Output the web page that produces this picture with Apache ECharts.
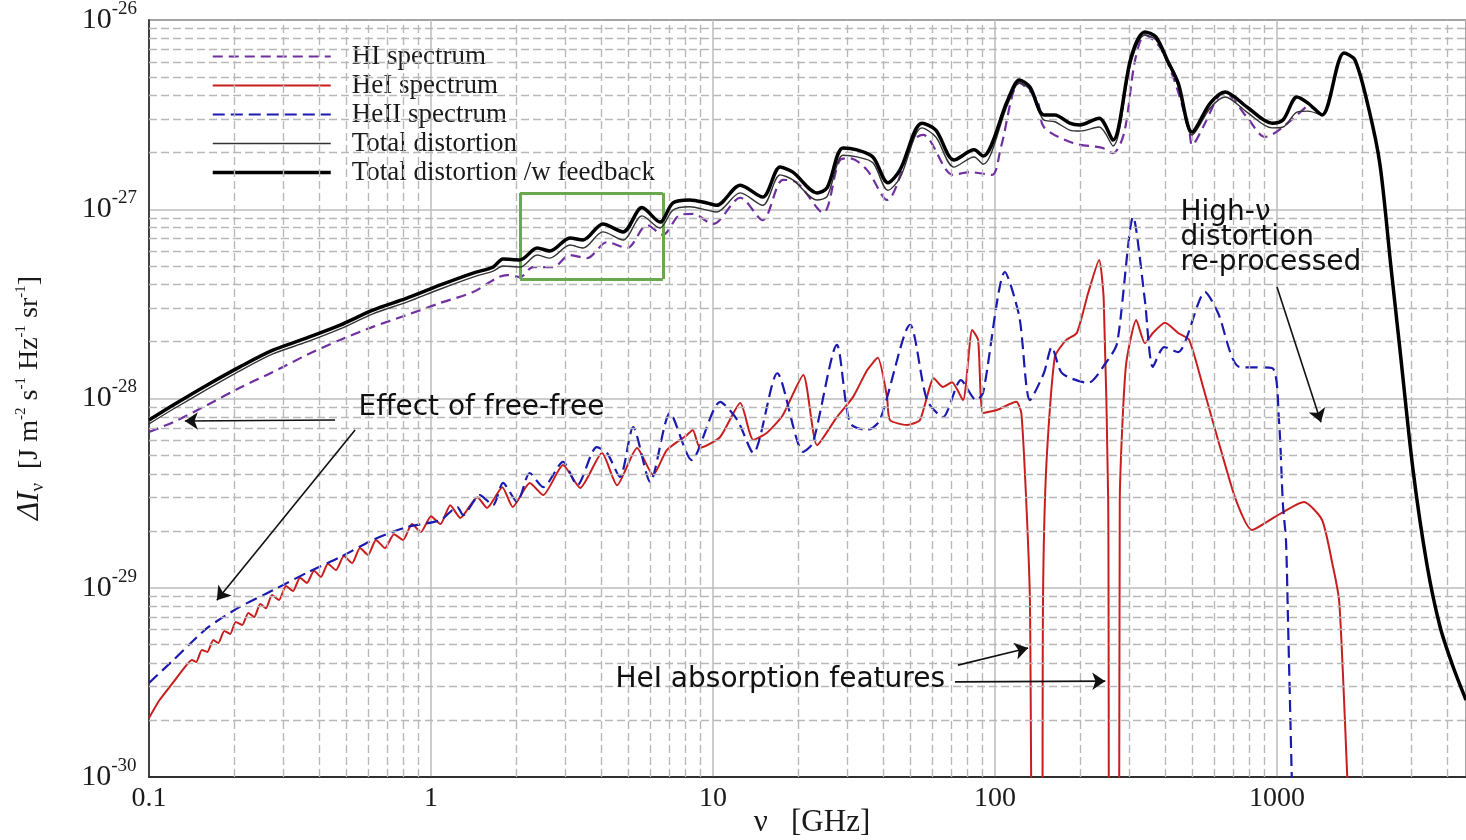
<!DOCTYPE html>
<html>
<head>
<meta charset="utf-8">
<title>Spectral distortion</title>
<script src="https://cdn.jsdelivr.net/npm/echarts@6/dist/echarts.min.js"></script>
<style>
  html, body { margin: 0; padding: 0; background: #fff; }
  #chart { width: 1466px; height: 840px; }
</style>
</head>
<body>
<div id="chart"></div>
<script>
// frequencies in GHz, intensities in J m^-2 s^-1 Hz^-1 sr^-1
var totFreq = [0.1, 0.122, 0.161, 0.21, 0.275, 0.363, 0.476, 0.622, 0.821, 1.08,
    1.41, 1.66, 1.8, 2.07, 2.38, 2.64, 3.11, 3.46, 4.07, 4.8,
    5.6, 6.49, 7.21, 8.28, 9.52, 10.3, 12.5, 15, 17.3, 19.2,
    23.4, 25.4, 28.9, 32.4, 36.9, 41.7, 46, 55.1, 61.7, 71.5,
    84.3, 90.7, 111, 122, 133, 149, 163, 184, 200, 234,
    262, 304, 340, 372, 408, 446, 500, 580, 654, 782,
    960, 1050, 1177, 1288, 1445, 1728, 1890, 2120, 2320, 2536,
    2731, 3037, 3404, 3789, 4202, 4680];
var totVal = [7.34e-29, 8.8e-29, 1.12e-28, 1.40e-28, 1.72e-28, 1.99e-28, 2.33e-28, 2.80e-28, 3.23e-28, 3.79e-28,
    4.38e-28, 4.71e-28, 5.01e-28, 4.95e-28, 5.73e-28, 5.52e-28, 6.47e-28, 6.24e-28, 7.59e-28, 6.88e-28,
    9.22e-28, 7.96e-28, 9.9e-28, 1.03e-27, 9.9e-28, 9.67e-28, 1.22e-27, 1.05e-27, 1.52e-27, 1.43e-27,
    1.12e-27, 1.17e-27, 1.93e-27, 1.89e-27, 1.76e-27, 1.26e-27, 1.46e-27, 2.69e-27, 2.41e-27, 1.67e-27,
    1.89e-27, 1.73e-27, 3.60e-27, 4.65e-27, 4.27e-27, 2.96e-27, 2.90e-27, 2.62e-27, 2.59e-27, 2.72e-27,
    2.16e-27, 6.02e-27, 8.33e-27, 7.85e-27, 6.02e-27, 4.48e-27, 2.47e-27, 3.43e-27, 3.92e-27, 3.26e-27,
    2.69e-27, 2.72e-27, 3.26e-27, 3.30e-27, 3.15e-27, 6.69e-27, 6.15e-27, 3.35e-27, 1.71e-27, 4.95e-28,
    1.80e-28, 4.19e-29, 1.32e-29, 6.2e-30, 3.86e-30, 2.55e-30];
var fbVal = [7.7e-29, 9.25e-29, 1.18e-28, 1.47e-28, 1.80e-28, 2.09e-28, 2.44e-28, 2.93e-28, 3.39e-28, 3.98e-28,
    4.60e-28, 4.95e-28, 5.46e-28, 5.40e-28, 6.24e-28, 6.02e-28, 7.05e-28, 6.88e-28, 8.36e-28, 7.59e-28,
    1.02e-27, 8.56e-28, 1.08e-27, 1.12e-27, 1.08e-27, 1.05e-27, 1.34e-27, 1.16e-27, 1.67e-27, 1.57e-27,
    1.22e-27, 1.30e-27, 2.11e-27, 2.06e-27, 1.89e-27, 1.38e-27, 1.61e-27, 2.85e-27, 2.62e-27, 1.82e-27,
    2.06e-27, 1.91e-27, 3.78e-27, 4.82e-27, 4.42e-27, 3.15e-27, 3.15e-27, 2.85e-27, 2.79e-27, 3.03e-27,
    2.32e-27, 6.38e-27, 8.65e-27, 8.14e-27, 6.15e-27, 4.65e-27, 2.56e-27, 3.64e-27, 4.17e-27, 3.47e-27,
    2.85e-27, 2.96e-27, 3.92e-27, 3.64e-27, 3.15e-27, 6.69e-27, 6.15e-27, 3.35e-27, 1.71e-27, 4.95e-28,
    1.80e-28, 4.19e-29, 1.32e-29, 6.2e-30, 3.86e-30, 2.55e-30];

var hiFreq = [0.1, 0.122, 0.161, 0.21, 0.275, 0.363, 0.476, 0.622, 0.821, 1.08,
    1.41, 1.86, 2.07, 2.3, 2.71, 3.11, 3.57, 4.21, 4.96, 5.84,
    6.64, 7.63, 8.48, 10, 12.5, 15, 17.7, 19.9, 24.6, 28.2,
    30.6, 35.2, 41.4, 51.2, 55.6, 71, 81.6, 97.6, 105, 122,
    141, 149, 189, 240, 262, 287, 314, 340, 384, 432,
    488, 500, 547, 618, 654, 782, 907, 1016, 1288];
var hiVal = [6.65e-29, 7.51e-29, 9.25e-29, 1.14e-28, 1.38e-28, 1.70e-28, 2.04e-28, 2.39e-28, 2.76e-28, 3.20e-28,
    3.65e-28, 4.49e-28, 4.38e-28, 4.95e-28, 4.95e-28, 5.73e-28, 5.52e-28, 6.70e-28, 6.24e-28, 8.25e-28,
    7.33e-28, 9.33e-28, 9.45e-28, 8.36e-28, 1.15e-27, 8.76e-28, 1.43e-27, 1.38e-27, 9.58e-28, 1.82e-27,
    1.86e-27, 1.61e-27, 1.12e-27, 2.32e-27, 2.47e-27, 1.52e-27, 1.57e-27, 1.52e-27, 2.13e-27, 4.65e-27,
    3.78e-27, 2.72e-27, 2.24e-27, 2.11e-27, 1.98e-27, 2.53e-27, 6.15e-27, 8.33e-27, 7.2e-27, 4.82e-27,
    2.62e-27, 2.18e-27, 2.72e-27, 3.92e-27, 4.11e-27, 3.07e-27, 2.41e-27, 2.62e-27, 3.55e-27];

var heIFreq = [0.1, 0.109, 0.122, 0.134, 0.142, 0.147, 0.154, 0.161, 0.169, 0.176,
    0.185, 0.194, 0.203, 0.214, 0.225, 0.236, 0.248, 0.260, 0.273, 0.289,
    0.306, 0.324, 0.343, 0.363, 0.385, 0.407, 0.431, 0.460, 0.491, 0.525,
    0.560, 0.598, 0.638, 0.687, 0.739, 0.796, 0.856, 0.921, 1.0, 1.08,
    1.17, 1.27, 1.46, 1.58, 1.79, 1.95, 2.24, 2.50, 2.94, 3.38,
    4.04, 4.57, 5.38, 6.13, 6.86, 8.09, 8.48, 9.0, 10.6, 12.5,
    13.9, 15.5, 17.7, 20.9, 23.4, 27.5, 31.4, 35.2, 38.4, 41.4,
    42.4, 48.8, 54.2, 60.7, 65.4, 70.4, 77.0, 83.0, 87.1, 90.7,
    101.6, 119, 124, 129, 133, 137, 146, 148, 152, 163,
    179, 195, 214, 234, 243, 252, 256, 275, 277, 291,
    317, 340, 363, 401, 446, 488, 547, 618, 715, 815,
    984, 1247, 1445, 1580, 1660, 1714, 1780];
var heIVal = [2.05e-30, 2.55e-30, 3.17e-30, 3.81e-30, 4.15e-30, 4.05e-30, 4.69e-30, 4.58e-30, 5.3e-30, 5.10e-30,
    5.91e-30, 5.70e-30, 6.59e-30, 6.36e-30, 7.36e-30, 7.0e-30, 8.2e-30, 7.8e-30, 9.15e-30, 8.62e-30,
    1.02e-29, 9.6e-30, 1.13e-29, 1.06e-29, 1.23e-29, 1.14e-29, 1.34e-29, 1.24e-29, 1.47e-29, 1.35e-29,
    1.62e-29, 1.49e-29, 1.79e-29, 1.62e-29, 1.92e-29, 1.79e-29, 2.17e-29, 1.97e-29, 2.39e-29, 2.17e-29,
    2.73e-29, 2.34e-29, 3.01e-29, 2.64e-29, 3.40e-29, 2.67e-29, 3.58e-29, 3.09e-29, 4.45e-29, 3.37e-29,
    5.15e-29, 3.48e-29, 5.48e-29, 3.94e-29, 5.34e-29, 6.42e-29, 6.82e-29, 5.48e-29, 6.26e-29, 9.47e-29,
    6.04e-29, 6.57e-29, 8.19e-29, 1.33e-28, 5.67e-29, 7.98e-29, 1.02e-28, 1.41e-28, 1.64e-28, 1.02e-28,
    7.7e-29, 7.25e-29, 7.7e-29, 1.28e-28, 1.15e-28, 1.22e-28, 9.8e-29, 2.30e-28, 2.04e-28, 8.38e-29,
    8.7e-29, 9.6e-29, 8.38e-29, 2.91e-29, 8.6e-30, 1e-31, 1e-31, 8.6e-30, 4.35e-29, 1.66e-28,
    2.04e-28, 2.22e-28, 3.61e-28, 5.40e-28, 3.31e-28, 2.91e-29, 1e-31, 1e-31, 2.91e-29, 1.47e-28,
    2.60e-28, 1.96e-28, 2.22e-28, 2.51e-28, 2.22e-28, 2.04e-28, 1.15e-28, 6.04e-29, 2.91e-29, 2.02e-29,
    2.37e-29, 2.84e-29, 2.28e-29, 1.29e-29, 8.6e-30, 3.46e-30, 9e-31];

var heIIFreq = [0.1, 0.122, 0.161, 0.21, 0.275, 0.363, 0.476, 0.622, 0.821, 1.08,
    1.24, 1.30, 1.49, 1.66, 1.80, 2.02, 2.24, 2.50, 2.94, 3.30,
    3.87, 4.21, 4.68, 5.21, 5.99, 7.04, 8.4, 10.6, 12.2, 13.9,
    16.9, 20.9, 22.6, 27.5, 30.6, 35.2, 39.1, 50.0, 57.4, 65.4,
    75.7, 85.7, 90.7, 108.5, 122, 133, 149, 159, 173, 214,
    247, 271, 309, 340, 363, 398, 446, 556, 618, 734,
    960, 1016, 1050, 1076, 1094, 1130];
var heIIVal = [3.14e-30, 4.15e-30, 6.13e-30, 7.92e-30, 9.7e-30, 1.20e-29, 1.45e-29, 1.79e-29, 2.09e-29, 2.28e-29,
    2.67e-29, 2.42e-29, 3.09e-29, 2.73e-29, 3.58e-29, 2.84e-29, 4.04e-29, 3.40e-29, 4.62e-29, 3.48e-29,
    5.54e-29, 5.15e-29, 3.85e-29, 7.07e-29, 3.62e-29, 8.38e-29, 4.73e-29, 9.6e-29, 7.7e-29, 5.15e-29,
    1.36e-28, 5.22e-29, 5.82e-29, 1.92e-28, 7.43e-29, 6.82e-29, 7.7e-29, 2.45e-28, 9.8e-29, 7.98e-29,
    1.25e-28, 9.8e-29, 1.07e-28, 4.66e-28, 2.70e-28, 9.8e-29, 1.36e-28, 1.87e-28, 1.36e-28, 1.21e-28,
    1.54e-28, 1.96e-28, 9.1e-28, 3.31e-28, 1.47e-28, 1.87e-28, 1.76e-28, 3.65e-28, 2.83e-28, 1.47e-28,
    1.45e-28, 7.7e-29, 2.73e-29, 1.79e-29, 6.76e-30, 9e-31];

var legendNames = ['HI spectrum', 'HeI spectrum', 'HeII spectrum', 'Total distortion', 'Total distortion /w feedback'];
var xTicks = [0.1, 1, 10, 100, 1000];
var yTicks = [1e-30, 1e-29, 1e-28, 1e-27];
var minorSteps = [2, 3, 4, 5, 6, 7, 8, 9];
var xMin = 0.1, xMax = 4680, yMin = 1e-30, yMax = 1e-26;
// green box around the 2-7 GHz wiggles: [nu0, nu1], [I_top, I_bottom]
var boxFreq = [2.07, 6.64];
var boxVal = [1.22e-27, 4.28e-28];

var serif = "'Liberation Serif', 'DejaVu Serif', serif";
var sans = "'DejaVu Sans', 'Noto Sans', sans-serif";

function pairs(xs, ys) {
    var out = [];
    for (var i = 0; i < xs.length; i++) out.push([xs[i], ys[i]]);
    return out;
}

// dashed minor grid at 2..9 of every decade
var minorLines = [];
xTicks.forEach(function (d) {
    minorSteps.forEach(function (m) {
        if (d * m < xMax) minorLines.push({ xAxis: d * m });
    });
});
yTicks.forEach(function (d) {
    minorSteps.forEach(function (m) {
        minorLines.push([{ coord: [xMin, d * m] }, { coord: [xMax, d * m] }]);
    });
});

var boxLines = [
    [{ coord: [boxFreq[0], boxVal[0]] }, { coord: [boxFreq[1], boxVal[0]] }],
    [{ coord: [boxFreq[1], boxVal[0]] }, { coord: [boxFreq[1], boxVal[1]] }],
    [{ coord: [boxFreq[1], boxVal[1]] }, { coord: [boxFreq[0], boxVal[1]] }],
    [{ coord: [boxFreq[0], boxVal[1]] }, { coord: [boxFreq[0], boxVal[0]] }]
];

var chart = echarts.init(document.getElementById('chart'));

function curve(name, xs, ys, color, width, type, z, smooth) {
    return {
        name: name,
        type: 'line',
        data: pairs(xs, ys),
        showSymbol: false,
        symbol: 'none',
        smooth: smooth,
        clip: true,
        z: z,
        lineStyle: { color: color, width: width, type: type },
        itemStyle: { color: color },
        emphasis: { disabled: true }
    };
}

function powerLabel(v) {
    var e = Math.round(Math.log10(v));
    if (!isFinite(e)) return '';
    return '{b|10}{e|' + e + '}';
}

var yLabelRich = {
    b: { fontFamily: serif, fontSize: 30, color: '#1a1a1a' },
    e: { fontFamily: serif, fontSize: 19, color: '#1a1a1a', padding: [0, 0, 22, 0] }
};

var option = {
    animation: false,
    backgroundColor: '#fff',
    grid: {
        left: 149, right: 0, top: 20, bottom: 63,
        outerBoundsMode: 'none',
        containLabel: false,
        show: true, borderColor: '#222', borderWidth: 1.5, backgroundColor: '#fff'
    },
    graphic: [{
        // y axis title
        type: 'text',
        x: 30,
        y: 398,
        rotation: Math.PI / 2,
        silent: true,
        style: {
            text: '{it|ΔI}{sub|ν}{n|  [J m}{sup|-2}{n| s}{sup|-1}{n| Hz}{sup|-1}{n| sr}{sup|-1}{n|]}',
            align: 'center',
            verticalAlign: 'middle',
            rich: {
                it: { fontFamily: serif, fontSize: 31, fontStyle: 'italic', fill: '#1a1a1a' },
                sub: { fontFamily: serif, fontSize: 19, fill: '#1a1a1a', padding: [16, 0, 0, 0] },
                n: { fontFamily: serif, fontSize: 28, fill: '#1a1a1a' },
                sup: { fontFamily: serif, fontSize: 15, fill: '#1a1a1a', padding: [0, 0, 18, 0] }
            }
        }
    }, {
        // x axis title
        type: 'text',
        x: 812,
        y: 823,
        silent: true,
        style: {
            text: 'ν   [GHz]',
            align: 'center',
            verticalAlign: 'middle',
            fontFamily: serif,
            fontSize: 31,
            fill: '#1a1a1a'
        }
    }],
    legend: {
        data: [
            { name: legendNames[0], lineStyle: { width: 2.2 } },
            { name: legendNames[1], lineStyle: { width: 2 } },
            { name: legendNames[2], lineStyle: { width: 2.2 } },
            { name: legendNames[3], lineStyle: { width: 1.4 } },
            { name: legendNames[4], lineStyle: { width: 3.5 } }
        ],
        orient: 'vertical',
        left: 206,
        top: 38,
        itemWidth: 118,
        itemHeight: 14,
        itemGap: 2,
        selectedMode: false,
        itemStyle: { opacity: 0 },
        textStyle: { fontFamily: serif, fontSize: 27, color: '#1a1a1a', lineHeight: 24, padding: [0, 0, 0, 16] }
    },
    xAxis: {
        type: 'log',
        logBase: 10,
        min: xMin,
        max: xMax,
        axisLine: { show: true, lineStyle: { color: '#222', width: 1.5 } },
        axisTick: { show: false },
        axisLabel: {
            showMaxLabel: false,
            margin: 8,
            fontFamily: serif, fontSize: 28, color: '#1a1a1a',
            formatter: function (v) { return String(+Number(v).toPrecision(3)); }
        },
        splitLine: { show: true, lineStyle: { color: '#bdbdbd', width: 1.5 } }
    },
    yAxis: {
        type: 'log',
        logBase: 10,
        min: yMin,
        max: yMax,
        axisLine: { show: true, lineStyle: { color: '#222', width: 1.5 } },
        axisTick: { show: false },
        axisLabel: {
            margin: 12,
            showMinLabel: false,   // the 1e-30 tick loses precision, drawn below as a marker label
            formatter: powerLabel,
            rich: yLabelRich
        },
        splitLine: { show: true, lineStyle: { color: '#bdbdbd', width: 1.5 } }
    },
    series: [
        {
            name: 'grid',
            type: 'line',
            data: [],
            z: 1,
            silent: true,
            markLine: {
                silent: true,
                symbol: 'none',
                label: { show: false },
                emphasis: { disabled: true },
                lineStyle: { color: '#b8b8b8', width: 1.4, type: [8, 4] },
                data: minorLines
            },
            markPoint: {
                silent: true,
                symbol: 'circle',
                symbolSize: 1,
                itemStyle: { color: 'rgba(0,0,0,0)' },
                label: {
                    show: true,
                    position: 'left',
                    distance: 12,
                    formatter: powerLabel(yMin),
                    rich: yLabelRich
                },
                data: [{ coord: [xMin, yMin] }]
            }
        },
        curve('HI spectrum', hiFreq, hiVal, '#7030a0', 2.2, [10, 6], 3, 0.3),
        curve('HeI spectrum', heIFreq, heIVal, '#c81e1e', 2, 'solid', 4, 0.2),
        curve('HeII spectrum', heIIFreq, heIIVal, '#1a1ab0', 2.2, [12, 6], 4, 0.25),
        curve('Total distortion', totFreq, totVal, '#333333', 1.4, 'solid', 5, 0.3),
        curve('Total distortion /w feedback', totFreq, fbVal, '#000000', 3.5, 'solid', 6, 0.3),
        {
            name: 'box',
            type: 'line',
            data: [],
            z: 7,
            silent: true,
            markLine: {
                silent: true,
                symbol: 'none',
                label: { show: false },
                emphasis: { disabled: true },
                lineStyle: { color: '#6aa84f', width: 3, type: 'solid' },
                data: boxLines
            }
        },
        {
            name: 'notes',
            type: 'line',
            data: [],
            z: 8,
            silent: true,
            markLine: {
                silent: true,
                symbol: ['none', 'arrow'],
                symbolSize: 13,
                label: { show: false },
                emphasis: { disabled: true },
                lineStyle: { color: '#111', width: 1.6, type: 'solid' },
                itemStyle: { color: '#111' },
                data: [
                    [{ coord: [0.457, 7.7e-29] }, { coord: [0.134, 7.6e-29] }],
                    [{ coord: [0.538, 6.82e-29] }, { coord: [0.174, 8.6e-30] }],
                    [{ coord: [73.9, 3.9e-30] }, { coord: [131, 4.8e-30] }],
                    [{ coord: [72.1, 3.18e-30] }, { coord: [246, 3.21e-30] }],
                    [{ coord: [1000, 3.88e-28] }, { coord: [1432, 7.5e-29] }]
                ]
            },
            markPoint: {
                silent: true,
                symbol: 'circle',
                symbolSize: 1,
                itemStyle: { color: 'rgba(0,0,0,0)' },
                label: {
                    show: true,
                    position: 'right',
                    distance: 0,
                    fontFamily: sans,
                    fontSize: 28,
                    lineHeight: 25,
                    color: '#111',
                    align: 'left',
                    verticalAlign: 'middle'
                },
                data: [
                    { coord: [0.551, 8.9e-29], label: { formatter: 'Effect of free-free' } },
                    { coord: [4.49, 3.25e-30], label: { formatter: 'HeI absorption features' } },
                    { coord: [453, 7.1e-28], label: { formatter: 'High-ν\ndistortion\nre-processed' } }
                ]
            }
        }
    ]
};

chart.setOption(option);
</script>
</body>
</html>
